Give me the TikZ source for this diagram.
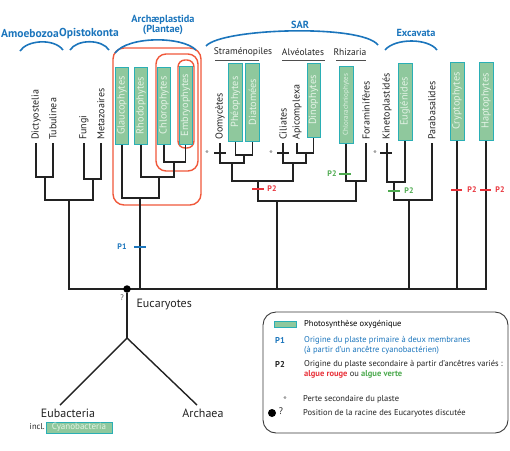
\documentclass[tikz,border=0pt]{standalone}
\usepackage{fontspec}
\setmainfont{PT Sans}
\definecolor{gfill}{HTML}{8FC89D}
\definecolor{gbord}{HTML}{2AAFB5}
\definecolor{gtext}{HTML}{E4F3E6}
\definecolor{ored}{HTML}{F0583A}
\definecolor{tblue}{HTML}{1B75BC}
\definecolor{pred}{HTML}{E8323A}
\definecolor{pgreen}{HTML}{4DAA4F}
\definecolor{lk}{HTML}{222222}
\newcommand{\fsz}[1]{\fontsize{#1}{#1}\selectfont}
\begin{document}
\begin{tikzpicture}[x=1pt,y=-1pt,
  br/.style={draw=lk, line width=1.4pt},
  gbox/.style={draw=gbord, fill=gfill, line width=1pt, text=gtext, rotate=90, inner sep=0pt, font=\fsz{10.3}},
  leaf/.style={rotate=90, anchor=west, inner xsep=3pt, inner ysep=0pt, text=lk, font=\fsz{10}},
  grp/.style={text=tblue, font=\bfseries\fsz{10.3}},
  sub/.style={text=lk, font=\fsz{9.5}},
  barc/.style={draw=tblue, line width=1.6pt},
  redbox/.style={draw=ored, line width=1.4pt},
  plab/.style={font=\bfseries\fsz{8}},
  star/.style={text=gray, font=\fsz{11}},
  legtxt/.style={anchor=west, font=\fsz{8.5}, inner sep=0pt}
]
\useasboundingbox (0,0) rectangle (510,450);

% red boxes (Archaeplastida)
\draw[redbox, rounded corners=11pt] (113,48) rectangle (201,205);
\draw[redbox, rounded corners=10pt] (156,54) rectangle (198,171);
\draw[redbox, rounded corners=7pt] (178,60) rectangle (194,148);

% group labels and arcs
\node[grp, font=\bfseries\fsz{11.5}] (amoe) at (30,34) {Amoebozoa};
\node[grp, font=\bfseries\fsz{11.5}] (opis) at (89,34) {Opistokonta};
\node[grp, align=center] (arch) at (163,25) {Archæplastida\\(Plantae)};
\node[grp] (sar) at (300,25) {SAR};
\node[grp] (exca) at (416,33) {Excavata};
\draw[barc] (20,51) .. controls (27,40) and (54,38) .. (63,50);
\draw[barc] (70,50) .. controls (77,39) and (102,39) .. (109,50);
\draw[barc] (115,53) .. controls (128,36) and (182,36) .. (196,50);
\draw[barc] (206,46) .. controls (222,28) and (362,24) .. (378,45);
\draw[barc] (385,50) .. controls (395,38) and (428,38) .. (437,50);

\node[sub] (stra) at (243,52) {Straménopiles};
\node[sub] (alve) at (303,52) {Alvéolates};
\node[sub] (rhiz) at (350,52) {Rhizaria};
\draw[draw=lk!80, line width=0.8pt] (215,60) -- (259,60);
\draw[draw=lk!80, line width=0.8pt] (282,60) -- (325,60);
\draw[draw=lk!80, line width=0.8pt] (336,60) -- (366,60);

% leaves
\node[leaf] (dict) at (36,143) {Dictyostelia};
\node[leaf] (tub) at (53,143) {Tubulinea};
\node[leaf] (fung) at (84,143) {Fungi};
\node[leaf] (meta) at (101,143) {Metazoaires};
\node[gbox, minimum width=77pt, minimum height=13pt] (glau) at (122,105.5) {Glaucophytes};
\node[gbox, minimum width=77pt, minimum height=13pt] (rhod) at (141,105.5) {Rhodophytes};
\node[gbox, minimum width=77pt, minimum height=13pt] (chlo) at (164,105.5) {Chlorophytes};
\node[gbox, minimum width=78pt, minimum height=13pt] (embr) at (185.5,105) {Embryophytes};
\node[leaf] (oomy) at (220,143) {Oomycètes};
\node[gbox, minimum width=78pt, minimum height=14pt] (pheo) at (235.5,102) {Phéophytes};
\node[gbox, minimum width=78pt, minimum height=14pt] (diat) at (252.5,102) {Diatomées};
\node[leaf] (cili) at (283,143) {Ciliates};
\node[leaf] (apic) at (297,143) {Apicomplexa};
\node[gbox, minimum width=74pt, minimum height=13pt] (dino) at (313.5,100) {Dinophytes};
\node[gbox, minimum width=77pt, minimum height=14pt, font=\fsz{7}] (chlr) at (346,104.5) {Chlorarachniophytes};
\node[leaf] (fora) at (366,143) {Foraminifères};
\node[leaf] (kine) at (387,143) {Kinetoplastidés};
\node[gbox, minimum width=77pt, minimum height=14pt] (eugl) at (405,101.5) {Euglénides};
\node[leaf] (para) at (432,143) {Parabasalides};
\node[gbox, minimum width=78pt, minimum height=14pt] (cryp) at (457,101) {Cryptophytes};
\node[gbox, minimum width=78pt, minimum height=14pt] (hapt) at (486,101) {Haptophytes};

% internal nodes
\coordinate (nA) at (45,177);
\coordinate (nB) at (93,179);
\coordinate (nC) at (69,200);
\coordinate (nE) at (174,162);
\coordinate (nR) at (159,177);
\coordinate (nG) at (140,198);
\coordinate (nPD) at (244,155);
\coordinate (nO) at (232,163);
\coordinate (nAD) at (306,153);
\coordinate (nCi) at (293,163);
\coordinate (nSA) at (258,181);
\coordinate (nRh) at (356,181);
\coordinate (nSAR) at (277,201);
\coordinate (nKE) at (394,182);
\coordinate (nEx) at (409,200);
\coordinate (bl) at (69,289);

\draw[br] (dict.west) |- (nA) -| (tub.west);
\draw[br] (fung.west) |- (nB) -| (meta.west);
\draw[br] (nA) |- (nC) -| (nB);
\draw[br] (chlo.west) |- (nE) -| (embr.west);
\draw[br] (rhod.west) |- (nR) -| (nE);
\draw[br] (glau.west) |- (nG) -| (nR);
\draw[br] (pheo.west) |- (nPD) -| (diat.west);
\draw[br] (oomy.west) |- (nO) -| (nPD);
\draw[br] (apic.west) |- (nAD) -| (dino.west);
\draw[br] (cili.west) |- (nCi) -| (nAD);
\draw[br] (nO) |- (nSA) -| (nCi);
\draw[br] (chlr.west) |- (nRh) -| (fora.west);
\draw[br] (nSA) |- (nSAR) -| (nRh);
\draw[br] (kine.west) |- (nKE) -| (eugl.west);
\draw[br] (nKE) |- (nEx) -| (para.west);
\draw[br] (nC) |- (hapt.west |- bl) -- (hapt.west);
\draw[br] (nG) -- (nG |- bl);
\draw[br] (nSAR) -- (nSAR |- bl);
\draw[br] (nEx) -- (nEx |- bl);
\draw[br] (cryp.west) -- (cryp.west |- bl);

% secondary loss ticks
\draw[br] (214,153) -- (226,153);
\draw[br] (277,153) -- (289,153);
\draw[br] (380,153) -- (392,153);
\node[star] (s1) at (207,155) {*};
\node[star] (s2) at (271,155) {*};
\node[star] (s3) at (375,155) {*};

% P markers
\draw[draw=tblue, line width=1.3pt] (134,247) -- (146,247);
\node[plab, text=tblue] (p1) at (122,247) {P1};
\draw[draw=pred, line width=1.3pt] (252,189) -- (264,189);
\node[plab, text=pred] (p2a) at (272,189) {P2};
\draw[draw=pgreen, line width=1.3pt] (339,174) -- (351,174);
\node[plab, text=pgreen] (p2b) at (332,174) {P2};
\draw[draw=pgreen, line width=1.3pt] (388,191) -- (400,191);
\node[plab, text=pgreen] (p2c) at (409,191) {P2};
\draw[draw=pred, line width=1.3pt] (451,190) -- (462,190);
\node[plab, text=pred] (p2d) at (472,190) {P2};
\draw[draw=pred, line width=1.3pt] (480,190) -- (491,190);
\node[plab, text=pred] (p2e) at (500,190) {P2};

% root
\node[circle, fill=black, inner sep=0pt, minimum size=7.5pt] (root) at (127,289) {};
\node[font=\fsz{8}, text=lk!80] (q) at (122,298) {?};
\node[anchor=west, font=\fsz{12}, text=lk] (euk) at (133,305) {Eucaryotes};
\coordinate (split) at (127,338);
\coordinate (eubend) at (60,405);
\coordinate (arcend) at (197,405);
\draw[br] (root) -- (split);
\draw[br] (split) -- (eubend);
\draw[br] (split) -- (arcend);
\node[font=\fsz{12}, text=lk] (eub) at (68,413) {Eubacteria};
\node[font=\fsz{12}, text=lk] (archa) at (203,413) {Archaea};
\node[font=\fsz{8.5}, text=lk, anchor=east, inner sep=0pt] (incl) at (45,427) {incl.};
\node[draw=gbord, fill=gfill, line width=1pt, text=gtext, font=\fsz{9}, inner sep=1pt, minimum width=66pt, minimum height=11pt] (cyano) at (79,427.5) {Cyanobacteria};

% legend
\draw[draw=lk!90, line width=0.9pt, rounded corners=13pt] (263,312) rectangle (508,433);
\node[draw=gbord, fill=gfill, line width=1pt, minimum width=22pt, minimum height=6pt, inner sep=0pt] (sw) at (285,324) {};
\node[legtxt] (l1) at (304,324) {Photosynthèse oxygénique};
\node[plab, text=tblue, font=\bfseries\fsz{8.5}] (lp1) at (280,340) {P1};
\node[legtxt, text=tblue] (l2) at (304,340) {Origine du plaste primaire à deux membranes};
\node[legtxt, text=tblue] (l3) at (304,350) {(à partir d'un ancêtre cyanobactérien)};
\node[plab, text=lk, font=\bfseries\fsz{8.5}] (lp2) at (280,364) {P2};
\node[legtxt, text=lk] (l4) at (304,364) {Origine du plaste secondaire à partir d'ancêtres variés :};
\node[legtxt, text=lk] (l5) at (304,374) {\textcolor{pred}{\bfseries algue rouge} ou \textcolor{pgreen}{\bfseries algue verte}};
\node[star] (ls) at (285,401) {*};
\node[legtxt, text=lk] (l6) at (303,399) {Perte secondaire du plaste};
\node[circle, fill=black, inner sep=0pt, minimum size=8pt] (ldot) at (272,413) {};
\node[font=\fsz{9.5}, text=lk] (lq) at (281,411) {?};
\node[legtxt, text=lk] (l7) at (303,413) {Position de la racine des Eucaryotes discutée};
\end{tikzpicture}
\end{document}
